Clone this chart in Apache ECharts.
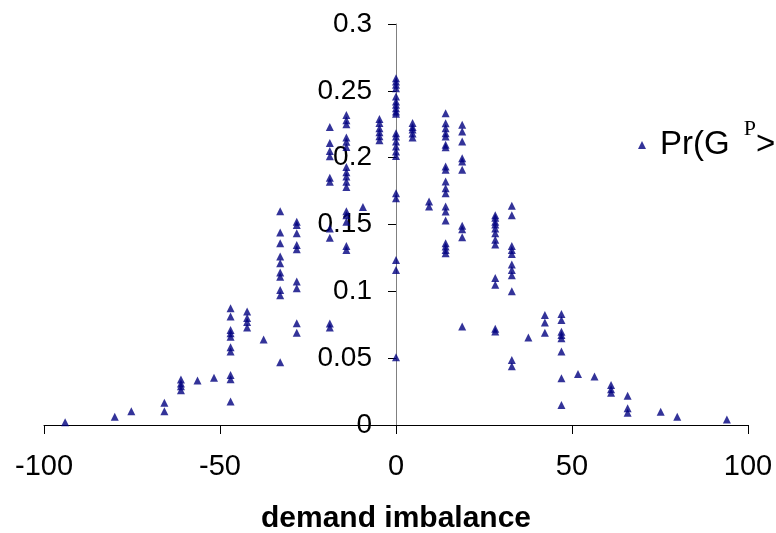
<!DOCTYPE html>
<html>
<head>
<meta charset="utf-8">
<script src="https://cdn.jsdelivr.net/npm/echarts@6/dist/echarts.min.js"></script>
<style>
html,body{margin:0;padding:0;background:#fff;}
#chart{width:776px;height:533px;}
</style>
</head>
<body>
<div id="chart"></div>
<script>
// demand imbalance positions of each column of points
const xColumns = [-94, -79.9, -75.2, -65.8, -61.1, -56.4, -51.7, -47, -42.3, -37.6, -32.9, -28.2,
  -18.8, -14.1, -9.4, -4.7, 0, 4.7, 9.4, 14.1, 18.8, 28.2, 32.9, 37.6, 42.3, 47, 51.7, 56.4, 61.1, 65.8, 75.2, 79.9, 94];
// probability values in each column
const yColumns = [
  [0.002],
  [0.0062],
  [0.0102],
  [0.0167, 0.0102],
  [0.034, 0.031, 0.029, 0.026],
  [0.0332],
  [0.0354],
  [0.0873, 0.0811, 0.0711, 0.0686, 0.0661, 0.0581, 0.0549, 0.0374, 0.0342, 0.0175],
  [0.085, 0.080, 0.077, 0.073],
  [0.064],
  [0.160, 0.144, 0.136, 0.126, 0.121, 0.114, 0.111, 0.101, 0.097, 0.047],
  [0.152, 0.1497, 0.1435, 0.1347, 0.1315, 0.1073, 0.1023, 0.0761, 0.0691],
  [0.223, 0.211, 0.205, 0.201, 0.185, 0.182, 0.147, 0.140, 0.076, 0.073],
  [0.232, 0.228, 0.225, 0.215, 0.212, 0.208, 0.193, 0.189, 0.186, 0.182, 0.178, 0.160, 0.157, 0.152, 0.134, 0.131],
  [0.163],
  [0.229, 0.226, 0.222, 0.219, 0.216, 0.213],
  [0.2595, 0.257, 0.2545, 0.252, 0.2458, 0.242, 0.2395, 0.237, 0.2345, 0.2328, 0.2183, 0.2158, 0.2121,
   0.2083, 0.2046, 0.2013, 0.1734, 0.1697, 0.1235, 0.116, 0.0507],
  [0.226, 0.223, 0.221, 0.218, 0.215],
  [0.1672, 0.1634],
  [0.2333, 0.2258, 0.2221, 0.2183, 0.2158, 0.2096, 0.2078, 0.1933, 0.1909, 0.1821, 0.1772, 0.1734,
   0.1634, 0.1597, 0.1529, 0.136, 0.1335, 0.131, 0.1285],
  [0.2246, 0.2196, 0.2121, 0.1996, 0.1971, 0.1909, 0.149, 0.1465, 0.1405, 0.0736],
  [0.157, 0.155, 0.152, 0.150, 0.147, 0.1435, 0.1385, 0.135, 0.110, 0.105, 0.072, 0.070],
  [0.164, 0.157, 0.134, 0.131, 0.128, 0.120, 0.116, 0.112, 0.100, 0.0487, 0.044],
  [0.0654],
  [0.0823, 0.0766, 0.0691],
  [0.0831, 0.0786, 0.0698, 0.0674, 0.0649, 0.0549, 0.035, 0.015],
  [0.0382],
  [0.0362],
  [0.030, 0.0267, 0.0242],
  [0.0219, 0.0125, 0.0092],
  [0.010],
  [0.0062],
  [0.0042]
];
const seriesName = 'Pr(GP>';
const xAxisTitle = 'demand imbalance';

const points = [];
xColumns.forEach((x, i) => yColumns[i].forEach(y => points.push([x, y])));

const chart = echarts.init(document.getElementById('chart'), null, {renderer: 'canvas'});
chart.setOption({
  animation: false,
  backgroundColor: '#fff',
  grid: {left: 44, right: 28, top: 24, bottom: 108, outerBoundsMode: 'none', containLabel: false},
  legend: {
    left: 633, top: 113,
    itemWidth: 8, itemHeight: 8,
    data: [{name: seriesName, icon: 'triangle'}],
    formatter: () => '{g|}{a|Pr(G}{b|P}{a|>}',
    textStyle: {
      rich: {
        g: {width: 9, fontSize: 33},
        a: {fontSize: 33, fontFamily: 'Liberation Sans', color: '#000', verticalAlign: 'middle'},
        b: {fontSize: 22, fontFamily: 'Liberation Serif', color: '#000', padding: [0, 0, 32, 14], verticalAlign: 'middle'}
      }
    }
  },
  xAxis: {
    type: 'value', min: -100, max: 100, interval: 50,
    name: xAxisTitle, nameLocation: 'middle', nameGap: 79,
    nameTextStyle: {fontSize: 30, fontWeight: 'bold', fontFamily: 'Liberation Sans', color: '#000'},
    axisLine: {lineStyle: {color: '#000', width: 1}},
    axisTick: {length: 9, lineStyle: {color: '#000'}},
    axisLabel: {fontSize: 29, fontFamily: 'Liberation Sans', color: '#000', margin: 27},
    splitLine: {show: false}
  },
  yAxis: {
    type: 'value', min: 0, max: 0.3, interval: 0.05,
    position: 'left', offset: -352,
    axisLine: {show: true, onZero: false, lineStyle: {color: '#808080', width: 1}},
    axisTick: {show: true, length: 8, lineStyle: {color: '#000'}},
    axisLabel: {fontSize: 28, fontFamily: 'Liberation Sans', color: '#000', margin: 24},
    splitLine: {show: false}
  },
  series: [{
    name: seriesName,
    type: 'scatter',
    symbol: 'triangle',
    symbolSize: 8,
    itemStyle: {color: '#000080'},
    data: points
  }]
});
</script>
</body>
</html>
